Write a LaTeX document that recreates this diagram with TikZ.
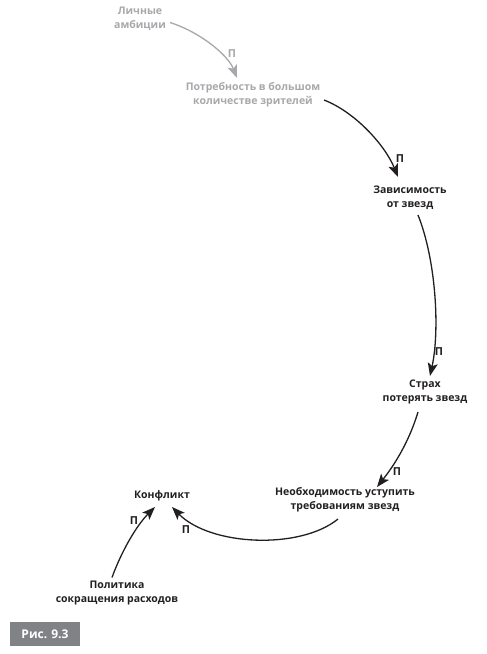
\documentclass[tikz,border=0pt]{standalone}
\usepackage{fontspec}
\setmainfont{Open Sans}
\usetikzlibrary{calc,arrows.meta}
\definecolor{ink}{HTML}{231F20}
\definecolor{grayink}{HTML}{A6A8AB}
\definecolor{figbox}{HTML}{808285}
\tikzset{
  lbl/.style={font=\bfseries\fontsize{10.5}{14}\selectfont, align=center, text=ink, inner sep=0pt},
  glbl/.style={lbl, text=grayink},
  pl/.style={font=\bfseries\fontsize{11}{12}\selectfont, text=ink, inner sep=0pt},
  gpl/.style={pl, text=grayink},
  link/.style={draw=ink, line width=1.3pt, -{Stealth[length=13pt,width=10pt,inset=3pt]}},
  glink/.style={link, draw=grayink},
}
\begin{document}
\begin{tikzpicture}[x=1pt,y=-1pt]
\useasboundingbox (0,0) rectangle (487,654);
\node[glbl] (amb) at (140,18.5) {Личные\\амбиции};
\node[glbl] (potr) at (253,95) {Потребность в большом\\количестве зрителей};
\node[lbl] (zav) at (410,198) {Зависимость\\от звезд};
\node[lbl] (strah) at (425,392) {Страх\\потерять звезд};
\node[lbl] (neob) at (345,500) {Необходимость уступить\\требованиям звезд};
\node[lbl] (konf) at (162,496) {Конфликт};
\node[lbl] (pol) at (117,593.5) {Политика\\сокращения расходов};

\draw[glink] ($(amb)+(30,4)$) .. controls (200,32) and (228,55) .. ($(potr)+(-16,-17)$);
\draw[link] ($(potr)+(71,5)$) .. controls (355,112) and (385,145) .. ($(zav)+(-12,-21)$);
\draw[link] ($(zav)+(8,17)$) .. controls (436,260) and (440,330) .. ($(strah)+(5,-16)$);
\draw[link] ($(strah)+(-7,20)$) .. controls (408,445) and (392,468) .. ($(neob)+(32,-13)$);
\draw[link] ($(neob)+(-7,19)$) .. controls (300,550) and (210,546) .. ($(konf)+(10,11)$);
\draw[link] ($(pol)+(-5,-16)$) .. controls (122,550) and (137,525) .. ($(konf)+(-7,11)$);

\node[gpl] (p1) at (232,54) {П};
\node[pl] (p2) at (400,159) {П};
\node[pl] (p3) at (439,352) {П};
\node[pl] (p4) at (397,472) {П};
\node[pl] (p5) at (186,530) {П};
\node[pl] (p6) at (134,521) {П};

\node[fill=figbox, text=white, minimum width=70pt, minimum height=24pt, inner sep=0pt,
  font=\bfseries\fontsize{12}{14}\selectfont] (fig) at (45,634) {Рис. 9.3};
\end{tikzpicture}
\end{document}
